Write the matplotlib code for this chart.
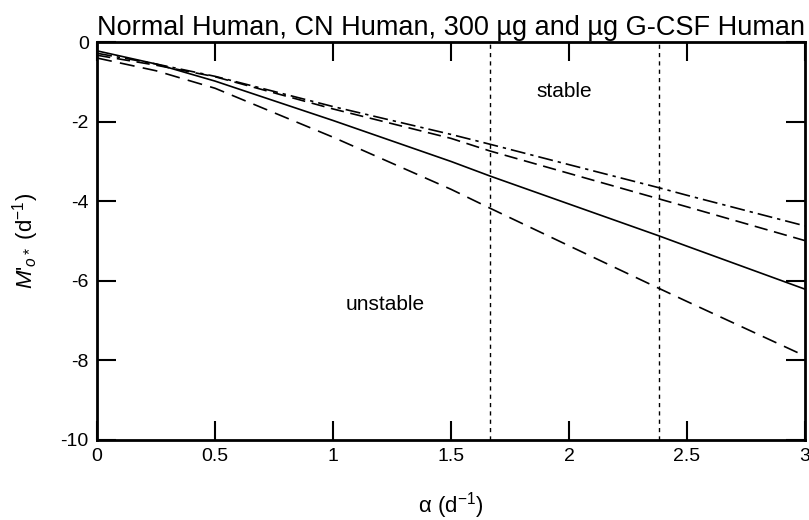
import matplotlib
matplotlib.use("Agg")
import matplotlib.pyplot as plt

plt.rcParams["font.family"] = ["Liberation Sans", "DejaVu Sans"]
plt.rcParams["mathtext.fontset"] = "custom"
plt.rcParams["mathtext.rm"] = "Liberation Sans"
plt.rcParams["mathtext.it"] = "Liberation Sans:italic"
plt.rcParams["axes.unicode_minus"] = False

# values
alpha = [0, 0.25, 0.5, 1.0, 1.5, 1.667, 2.0, 2.381, 2.5, 3.0]
m_solid = [-0.22, -0.55, -0.98, -1.97, -3.0, -3.37, -4.07, -4.87, -5.13, -6.21]
m_low_dash = [-0.40, -0.72, -1.16, -2.39, -3.70, -4.18, -5.12, -6.19, -6.52, -7.89]
m_up_dash = [-0.33, -0.58, -0.87, -1.68, -2.42, -2.74, -3.30, -3.94, -4.14, -4.99]
m_dashdot = [-0.28, -0.55, -0.86, -1.62, -2.32, -2.57, -3.08, -3.66, -3.85, -4.62]
bounds = [1.667, 2.381]

xticks = [0, 0.5, 1, 1.5, 2, 2.5, 3]
xtick_labels = ["0", "0.5", "1", "1.5", "2", "2.5", "3"]
yticks = [0, -2, -4, -6, -8, -10]

fig = plt.figure(figsize=(8.09, 5.2), dpi=100)
ax = fig.add_axes([0.12, 0.154, 0.875, 0.765])

ax.plot(alpha, m_solid, color="black", lw=1.2)
ax.plot(alpha, m_low_dash, color="black", lw=1.2, dashes=(9, 5))
ax.plot(alpha, m_up_dash, color="black", lw=1.2, dashes=(8, 4))
ax.plot(alpha, m_dashdot, color="black", lw=1.2, dashes=(9, 3, 2, 3))
for b in bounds:
    ax.axvline(b, color="black", lw=1.0, dashes=(3, 3))

ax.text(1.98, -1.25, "stable", fontsize=15, ha="center", va="center")
ax.text(1.22, -6.6, "unstable", fontsize=15, ha="center", va="center")

ax.set_xlim(0, 3)
ax.set_ylim(-10, 0)
ax.set_xticks(xticks)
ax.set_xticklabels(xtick_labels)
ax.set_yticks(yticks)
ax.tick_params(direction="in", length=14, width=1.5, top=True, right=True,
               labelsize=14, pad=6)
for s in ax.spines.values():
    s.set_linewidth(2)

ax.set_title("Normal Human, CN Human, 300 µg and µg G-CSF Human", fontsize=19.5, pad=5)
ax.set_xlabel(r"α (d$^{-1}$)", fontsize=16, labelpad=18)
ax.set_ylabel(r"$M$'$_{o*}$ (d$^{-1}$)", fontsize=16, labelpad=14)

fig.savefig("out.png", dpi=100)
